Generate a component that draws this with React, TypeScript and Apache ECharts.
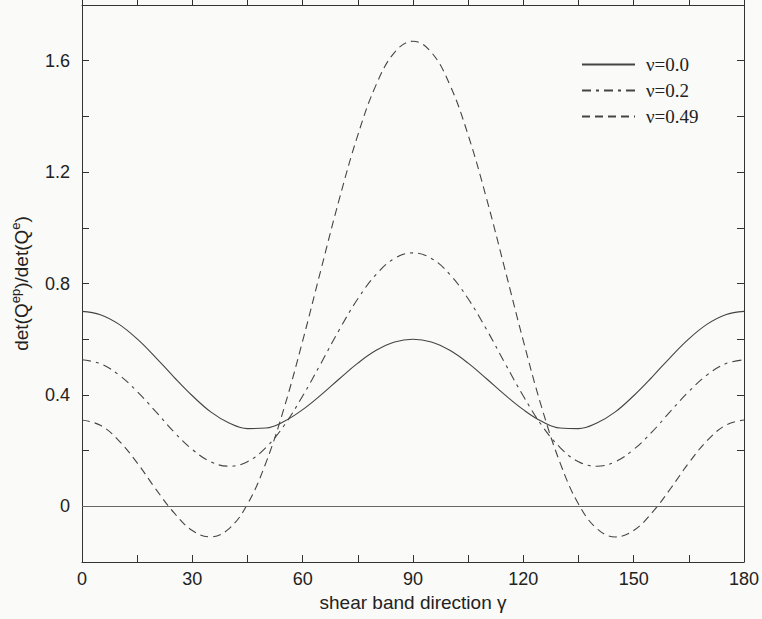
import React, { useEffect, useRef } from "react";
import * as echarts from "echarts";

const gamma = [0, 5, 10, 15, 20, 25, 30, 35, 40, 45, 50, 55, 60, 65, 70, 75, 80, 85, 90,
  95, 100, 105, 110, 115, 120, 125, 130, 135, 140, 145, 150, 155, 160, 165, 170, 175, 180];

const nu00 = [0.700, 0.688, 0.654, 0.601, 0.535, 0.464, 0.397, 0.339, 0.299, 0.279, 0.281, 0.305, 0.347, 0.400, 0.458, 0.514, 0.560, 0.590, 0.600,
  0.590, 0.560, 0.514, 0.458, 0.400, 0.347, 0.305, 0.281, 0.279, 0.299, 0.339, 0.397, 0.464, 0.535, 0.601, 0.654, 0.688, 0.700];

const nu02 = [0.526, 0.512, 0.472, 0.412, 0.341, 0.267, 0.204, 0.160, 0.144, 0.160, 0.211, 0.291, 0.396, 0.514, 0.635, 0.745, 0.833, 0.890, 0.910,
  0.890, 0.833, 0.745, 0.635, 0.514, 0.396, 0.291, 0.211, 0.160, 0.144, 0.160, 0.204, 0.267, 0.341, 0.412, 0.472, 0.512, 0.526];

const nu049 = [0.310, 0.291, 0.236, 0.156, 0.063, -0.023, -0.087, -0.110, -0.080, 0.008, 0.156, 0.355, 0.594, 0.851, 1.105, 1.333, 1.514, 1.630, 1.670,
  1.630, 1.514, 1.333, 1.105, 0.851, 0.594, 0.355, 0.156, 0.008, -0.080, -0.110, -0.087, -0.023, 0.063, 0.156, 0.236, 0.291, 0.310];

const seriesNames = ["\u03BD=0.0", "\u03BD=0.2", "\u03BD=0.49"];
const xLabelTicks = [0, 30, 60, 90, 120, 150, 180];
const yLabelTicks = [0, 0.4, 0.8, 1.2, 1.6];

const SANS = "'Liberation Sans', Arial, sans-serif";
const SERIF = "'Liberation Serif', 'Times New Roman', serif";
const AXIS = "#333";
const INK = "#444";

export default function App() {
  const ref = useRef<HTMLDivElement>(null);
  useEffect(() => {
    if (!ref.current) return;
    const chart = echarts.init(ref.current, undefined, { renderer: "svg" });
    const pairs = (ys: number[]) => gamma.map((g, i) => [g, ys[i]]);
    chart.setOption({
      animation: false,
      backgroundColor: "#fafaf8",
      grid: { left: 82, right: 16, top: 5, bottom: 57 },
      legend: {
        orient: "vertical",
        left: 581,
        top: 55,
        padding: 0,
        itemWidth: 53,
        itemHeight: 14,
        itemGap: 7,
        data: seriesNames,
        itemStyle: { opacity: 0 },
        textStyle: { fontFamily: SERIF, fontSize: 19, color: "#222", padding: [0, 0, 0, 6] },
      },
      xAxis: [
        {
          type: "value",
          min: 0,
          max: 180,
          interval: 15,
          position: "bottom",
          axisLine: { show: true, onZero: false, lineStyle: { color: AXIS, width: 1 } },
          axisTick: { show: true, inside: true, length: 7, lineStyle: { color: "#333333", width: 1 } },
          splitLine: { show: false },
          axisLabel: {
            margin: 8,
            fontFamily: SANS,
            fontSize: 18,
            color: "#222",
            formatter: (v: number) => (xLabelTicks.includes(Math.round(v)) ? String(Math.round(v)) : ""),
          },
          name: "shear band direction \u03B3",
          nameLocation: "middle",
          nameGap: 31,
          nameTextStyle: { fontFamily: SANS, fontSize: 19, color: "#222" },
        },
        {
          type: "value",
          min: 0,
          max: 180,
          interval: 15,
          position: "top",
          axisLine: { show: true, onZero: false, lineStyle: { color: AXIS, width: 1 } },
          axisTick: { show: true, inside: false, length: 5, lineStyle: { color: "#303030", width: 1 } },
          axisLabel: { show: false },
          splitLine: { show: false },
        },
      ],
      yAxis: [
        {
          type: "value",
          min: -0.2,
          max: 1.8,
          interval: 0.2,
          position: "left",
          axisLine: { show: true, lineStyle: { color: AXIS, width: 1 } },
          axisTick: { show: true, inside: true, length: 7, lineStyle: { color: "#323232", width: 1 } },
          splitLine: { show: false },
          axisLabel: {
            margin: 12,
            fontFamily: SANS,
            fontSize: 18,
            color: "#222",
            formatter: (v: number) => {
              const r = Math.round(v * 10) / 10;
              const hit = yLabelTicks.find((t) => Math.abs(t - r) < 1e-6);
              if (hit === undefined) return "";
              return hit === 0 ? "0" : hit.toFixed(1);
            },
          },
          name: "det(Q{sup|ep})/det(Q{sup|e})",
          nameLocation: "middle",
          nameRotate: 90,
          nameGap: 49,
          nameTextStyle: {
            fontFamily: SANS,
            fontSize: 19,
            color: "#222",
            lineHeight: 24,
            rich: {
              sup: { fontFamily: SANS, fontSize: 13, color: "#222", verticalAlign: "top", lineHeight: 13 },
            },
          },
        },
        {
          type: "value",
          min: -0.2,
          max: 1.8,
          interval: 0.2,
          position: "right",
          axisLine: { show: true, onZero: false, lineStyle: { color: AXIS, width: 1 } },
          axisTick: { show: true, inside: true, length: 7, lineStyle: { color: "#343434", width: 1 } },
          axisLabel: { show: false },
          splitLine: { show: false },
        },
      ],
      series: [
        {
          name: seriesNames[0],
          type: "line",
          data: pairs(nu00),
          smooth: 0.4,
          symbol: "none",
          lineStyle: { color: INK, width: 1.1, type: "solid" },
          itemStyle: { color: INK },
          markLine: {
            silent: true,
            symbol: "none",
            label: { show: false },
            lineStyle: { color: "#666", width: 1.2, type: "solid" },
            data: [{ yAxis: 0 }],
          },
        },
        {
          name: seriesNames[1],
          type: "line",
          data: pairs(nu02),
          smooth: 0.4,
          symbol: "none",
          lineStyle: { color: INK, width: 1.1, type: [9, 5, 3, 5] },
          itemStyle: { color: INK },
        },
        {
          name: seriesNames[2],
          type: "line",
          data: pairs(nu049),
          smooth: 0.4,
          symbol: "none",
          lineStyle: { color: INK, width: 1.1, type: [8, 5] },
          itemStyle: { color: INK },
        },
      ],
    });
    return () => chart.dispose();
  }, []);
  return <div ref={ref} style={{ position: "absolute", left: 0, top: 0, width: 762, height: 619 }} />;
}
